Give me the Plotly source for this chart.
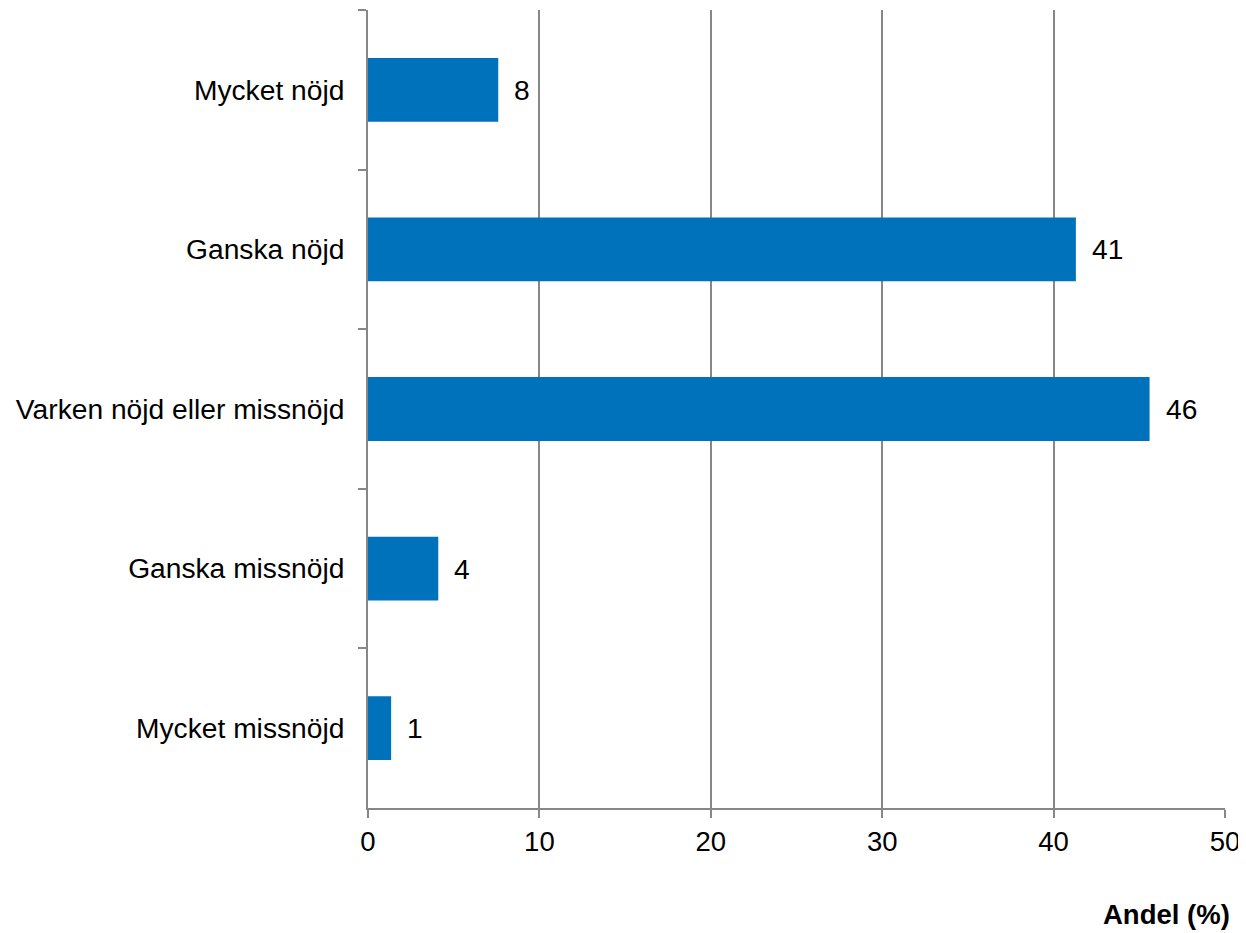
import plotly.graph_objects as go

categories = ["Mycket nöjd", "Ganska nöjd", "Varken nöjd eller missnöjd", "Ganska missnöjd", "Mycket missnöjd"]
values = [7.6, 41.3, 45.6, 4.1, 1.35]
labels = ["8", "41", "46", "4", "1"]
x_ticks = [0, 10, 20, 30, 40, 50]

FONT = "Liberation Sans, Arial, sans-serif"
GRID = "#878787"
FS = 28.2

fig = go.Figure()
fig.add_trace(go.Bar(
    x=values, y=categories, orientation="h",
    marker=dict(color="#0072BC", line=dict(width=0)),
    hoverinfo="skip",
))

for v, c, t in zip(values, categories, labels):
    fig.add_annotation(x=v, y=c, text=t, showarrow=False, xanchor="left",
                       xshift=14, font=dict(family=FONT, size=FS, color="#000"))

fig.add_annotation(xref="paper", yref="paper", x=1, y=0, xanchor="right",
                   yanchor="middle", xshift=7, yshift=-106, text="<b>Andel (%)</b>",
                   showarrow=False, font=dict(family=FONT, size=27.5, color="#000"))

fig.update_layout(
    width=1238, height=925,
    margin=dict(l=360, r=21, t=2, b=125),
    paper_bgcolor="white", plot_bgcolor="white",
    bargap=0.6, showlegend=False,
    font=dict(family=FONT, size=FS, color="#000"),
)
fig.update_xaxes(
    range=[0, 50], tickvals=x_ticks, showgrid=True, gridcolor=GRID, gridwidth=1.5,
    zeroline=False, showline=True, linecolor=GRID, linewidth=2,
    ticks="outside", ticklen=8, tickcolor=GRID, tickwidth=2,
    tickfont=dict(family=FONT, size=27.5, color="#000"),
)
fig.update_yaxes(
    type="category", categoryorder="array", categoryarray=categories,
    autorange="reversed", tickson="boundaries",
    showline=True, linecolor=GRID, linewidth=2, showgrid=False, zeroline=False,
    ticks="outside", ticklen=8, tickcolor=GRID, tickwidth=2,
    ticklabelstandoff=16,
    tickfont=dict(family=FONT, size=FS, color="#000"),
)

fig.write_html("out.html")
